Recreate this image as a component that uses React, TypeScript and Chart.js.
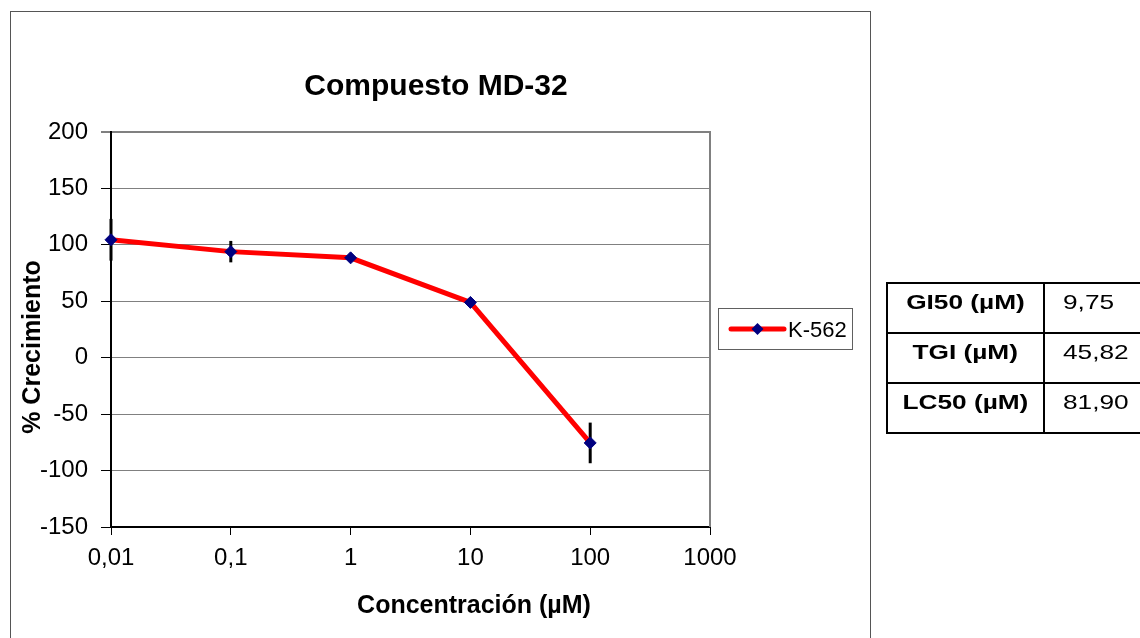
import React, { useEffect, useRef } from 'react';
import { Chart, registerables } from 'chart.js';

Chart.register(...registerables);

const FONT = "'Liberation Sans', Arial, Helvetica, sans-serif";

const chartTitle = 'Compuesto MD-32';
const xAxisTitle = 'Concentración (µM)';
const yAxisTitle = '% Crecimiento';
const seriesName = 'K-562';

const concentrations = [0.01, 0.1, 1, 10, 100];
const growth = [104.5, 94, 88.5, 49, -75.5];
const growthError = [18.5, 9.5, 3, 2, 18];

const xTickValues = [0.01, 0.1, 1, 10, 100, 1000];
const xTickLabels = ['0,01', '0,1', '1', '10', '100', '1000'];
const yMin = -150;
const yMax = 200;
const yStep = 50;

const tableLabels = ['GI50 (µM)', 'TGI (µM)', 'LC50 (µM)'];
const tableValues = ['9,75', '45,82', '81,90'];

const decorPlugin = {
  id: 'decor',
  beforeDatasetsDraw(chart: any) {
    const { ctx, chartArea, scales } = chart;
    ctx.save();
    // right border of plot area
    ctx.strokeStyle = '#808080';
    ctx.lineWidth = 2;
    ctx.beginPath();
    ctx.moveTo(chartArea.right, chartArea.top - 1);
    ctx.lineTo(chartArea.right, chartArea.bottom);
    ctx.stroke();
    // error bars
    ctx.strokeStyle = '#000000';
    ctx.lineWidth = 3;
    concentrations.forEach((c, i) => {
      const x = scales.x.getPixelForValue(c);
      const y1 = scales.y.getPixelForValue(growth[i] + growthError[i]);
      const y2 = scales.y.getPixelForValue(growth[i] - growthError[i]);
      ctx.beginPath();
      ctx.moveTo(x, y1);
      ctx.lineTo(x, y2);
      ctx.stroke();
    });
    ctx.restore();
  },
  afterDraw(chart: any) {
    const { ctx } = chart;
    ctx.save();
    ctx.fillStyle = '#000000';
    // chart title
    ctx.font = `bold 30px ${FONT}`;
    ctx.textAlign = 'center';
    ctx.textBaseline = 'alphabetic';
    ctx.fillText(chartTitle, 436, 95);
    // x axis title
    ctx.font = `bold 25px ${FONT}`;
    ctx.fillText(xAxisTitle, 474, 613);
    // y axis title
    ctx.save();
    ctx.translate(40, 347);
    ctx.rotate(-Math.PI / 2);
    ctx.font = `bold 25px ${FONT}`;
    ctx.fillText(yAxisTitle, 0, 0);
    ctx.restore();
    // legend
    const ds = chart.data.datasets[0];
    ctx.strokeStyle = '#606060';
    ctx.lineWidth = 1;
    ctx.strokeRect(718.5, 308.5, 134, 41);
    ctx.strokeStyle = ds.borderColor;
    ctx.lineWidth = 5;
    ctx.lineCap = 'round';
    ctx.beginPath();
    ctx.moveTo(731, 329);
    ctx.lineTo(784, 329);
    ctx.stroke();
    ctx.fillStyle = ds.pointBackgroundColor;
    ctx.beginPath();
    ctx.moveTo(757.5, 323);
    ctx.lineTo(763.5, 329);
    ctx.lineTo(757.5, 335);
    ctx.lineTo(751.5, 329);
    ctx.closePath();
    ctx.fill();
    ctx.fillStyle = '#000000';
    ctx.font = `22px ${FONT}`;
    ctx.textAlign = 'left';
    ctx.fillText(seriesName, 788, 337);
    ctx.restore();
  },
};

function ChartCanvas() {
  const ref = useRef<HTMLCanvasElement | null>(null);
  useEffect(() => {
    if (!ref.current) return;
    Chart.defaults.font.family = FONT;
    const chart = new Chart(ref.current, {
      type: 'line',
      data: {
        datasets: [
          {
            label: seriesName,
            data: concentrations.map((c, i) => ({ x: c, y: growth[i] })),
            borderColor: '#ff0000',
            borderWidth: 5,
            pointStyle: 'rectRot',
            pointRadius: 6,
            pointBackgroundColor: '#000080',
            pointBorderColor: '#000080',
            pointBorderWidth: 1,
            tension: 0,
            clip: false,
          } as any,
        ],
      },
      options: {
        animation: false,
        responsive: false,
        events: [],
        layout: { padding: { top: 132, right: 430, bottom: 0, left: 0 } },
        plugins: {
          legend: { display: false },
          title: { display: false },
          tooltip: { enabled: false },
        },
        scales: {
          x: {
            type: 'logarithmic',
            min: xTickValues[0],
            max: xTickValues[xTickValues.length - 1],
            afterBuildTicks: (scale: any) => {
              scale.ticks = xTickValues.map((v) => ({ value: v }));
            },
            afterFit: (scale: any) => {
              scale.height = 111;
            },
            ticks: {
              autoSkip: false,
              maxRotation: 0,
              padding: 9,
              color: '#000000',
              font: { size: 24, family: FONT },
              callback: (_v: any, i: number) => xTickLabels[i],
            },
            grid: {
              drawOnChartArea: false,
              drawTicks: true,
              tickLength: 8,
              tickColor: '#000000',
              tickWidth: 1,
            },
            border: { display: true, color: '#000000', width: 2 },
          },
          y: {
            type: 'linear',
            min: yMin,
            max: yMax,
            afterFit: (scale: any) => {
              scale.width = 111;
            },
            ticks: {
              stepSize: yStep,
              padding: 13,
              color: '#000000',
              font: { size: 24, family: FONT },
              callback: (v: any) => String(v),
            },
            grid: {
              color: (ctx: any) => (ctx.tick && ctx.tick.value === yMin ? 'rgba(0,0,0,0)' : '#808080'),
              lineWidth: (ctx: any) => (ctx.tick && ctx.tick.value === yMax ? 2 : 1),
              drawTicks: true,
              tickLength: 10,
              tickColor: '#000000',
              tickWidth: 1,
            },
            border: { display: true, color: '#000000', width: 2 },
          },
        },
      } as any,
      plugins: [decorPlugin],
    });
    return () => chart.destroy();
  }, []);
  return (
    <canvas
      ref={ref}
      width={1140}
      height={638}
      style={{ position: 'absolute', left: 0, top: 0, width: 1140, height: 638 }}
    />
  );
}

function ResultsTable() {
  const rowTop = 283;
  const rowH = 50;
  const cellText = (text: string, bold: boolean) => (
    <span
      style={{
        display: 'inline-block',
        fontWeight: bold ? 'bold' : 'normal',
        transform: 'scaleX(1.25)',
        transformOrigin: bold ? 'center' : 'left',
      }}
    >
      {text}
    </span>
  );
  return (
    <div style={{ position: 'absolute', left: 0, top: 0, width: 1140, height: 638, fontFamily: FONT, fontSize: 21, lineHeight: '24px', color: '#000' }}>
      <div style={{ position: 'absolute', left: 886, top: 282, width: 300, height: 2, background: '#000' }} />
      <div style={{ position: 'absolute', left: 886, top: 432, width: 300, height: 2, background: '#000' }} />
      <div style={{ position: 'absolute', left: 886, top: 282, width: 2, height: 152, background: '#000' }} />
      <div style={{ position: 'absolute', left: 1043, top: 282, width: 2, height: 152, background: '#000' }} />
      <div style={{ position: 'absolute', left: 886, top: 332, width: 300, height: 2, background: '#000' }} />
      <div style={{ position: 'absolute', left: 886, top: 382, width: 300, height: 2, background: '#000' }} />
      {tableLabels.map((label, i) => (
        <React.Fragment key={label}>
          <div style={{ position: 'absolute', left: 888, width: 155, top: rowTop + i * rowH + 7, textAlign: 'center' }}>
            {cellText(label, true)}
          </div>
          <div style={{ position: 'absolute', left: 1063, width: 80, top: rowTop + i * rowH + 7, textAlign: 'left' }}>
            {cellText(tableValues[i], false)}
          </div>
        </React.Fragment>
      ))}
    </div>
  );
}

export default function App() {
  return (
    <div style={{ position: 'absolute', left: 0, top: 0, width: 1140, height: 638, overflow: 'hidden', background: '#fff' }}>
      <div
        style={{
          position: 'absolute',
          left: 10,
          top: 11,
          width: 861,
          height: 700,
          border: '1px solid #555',
          boxSizing: 'border-box',
        }}
      />
      <ChartCanvas />
      <ResultsTable />
    </div>
  );
}
